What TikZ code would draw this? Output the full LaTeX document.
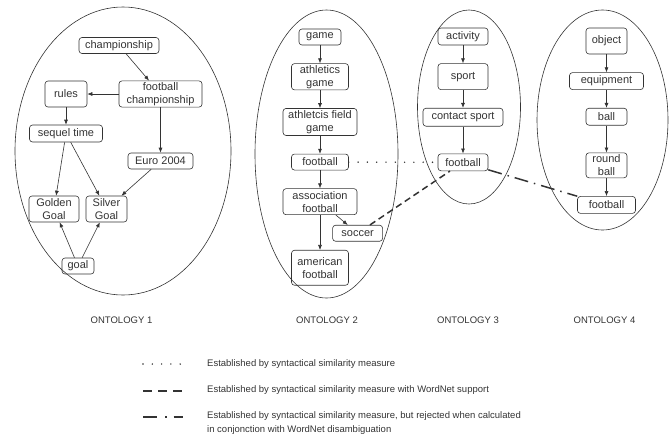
\documentclass[tikz,border=0pt]{standalone}
\usepackage{fontspec}
\setmainfont{Liberation Sans}
\usepackage{tikz}
\usetikzlibrary{positioning,arrows.meta}

\definecolor{LINE_COLOR}{HTML}{333333}
\tikzstyle{concept}=[rectangle, draw=LINE_COLOR, line width=0.6pt, rounded corners=3pt, minimum height=16pt, inner sep=1.5pt, align=center, text=LINE_COLOR, font=\fontsize{11}{13}\selectfont]
\tikzstyle{onto}=[draw=LINE_COLOR, line width=0.6pt]
\tikzstyle{isa}=[draw=LINE_COLOR, line width=0.6pt, -{Latex[length=5pt,width=4pt]}]
\tikzstyle{syntactic}=[draw=LINE_COLOR, line width=1.6pt, line cap=round, dash pattern=on 0pt off 9.3pt]
\tikzstyle{wordnet}=[draw=LINE_COLOR, line width=1.5pt, dash pattern=on 6.5pt off 4pt]
\tikzstyle{rejected}=[draw=LINE_COLOR, line width=1.5pt, dash pattern=on 14pt off 6pt on 1.5pt off 6pt]
\tikzstyle{ontolabel}=[text=LINE_COLOR, font=\fontsize{9.5}{11}\selectfont]
\tikzstyle{legendtext}=[text=LINE_COLOR, anchor=west, inner sep=0pt, align=left, font=\fontsize{9.5}{14}\selectfont]

\begin{document}
\begin{tikzpicture}[x=1pt, y=-1pt, node distance = 18pt and 0pt]
      \useasboundingbox (0,0) rectangle (669,437);

      %%%%%%%%%%%%%%%%%%%%%%%%%%%%%%%%%%%%%%%%%%%%%%%%%
      % ONTOLOGY 1
      %%%%%%%%%%%%%%%%%%%%%%%%%%%%%%%%%%%%%%%%%%%%%%%%%
      \draw[onto] (123,151) ellipse (108pt and 144pt);

      \node[concept, minimum width=80pt] (champ) at (119,45.5) {championship};
      \node[concept, minimum width=83pt, minimum height=26pt] (fchamp) at (160.5,94) {football\\championship};
      \node[concept, minimum width=42pt, minimum height=26pt] (rules) at (66,94) {rules};
      \node[concept, minimum width=73pt, minimum height=17pt] (sequel) at (66,133.5) {sequel time};
      \node[concept, minimum width=65pt] (euro) at (160.5,161) {Euro 2004};
      \node[concept, minimum width=50pt, minimum height=26pt] (golden) at (54,209) {Golden\\Goal};
      \node[concept, minimum width=41pt, minimum height=26pt] (silver) at (106.5,209) {Silver\\Goal};
      \node[concept, minimum width=32pt] (goal) at (78,266) {goal};

      \draw[isa] (champ) -- (fchamp);
      \draw[isa] (fchamp) -- (rules);
      \draw[isa] (rules) -- (sequel);
      \draw[isa] (fchamp) -- (euro);
      \draw[isa] (sequel) -- (golden);
      \draw[isa] (sequel) -- (silver);
      \draw[isa] (euro) -- (silver);
      \draw[isa] (goal) -- (golden);
      \draw[isa] (goal) -- (silver);

      \node[ontolabel] (lab1) at (121.5,320) {ONTOLOGY 1};

      %%%%%%%%%%%%%%%%%%%%%%%%%%%%%%%%%%%%%%%%%%%%%%%%%
      % ONTOLOGY 2
      %%%%%%%%%%%%%%%%%%%%%%%%%%%%%%%%%%%%%%%%%%%%%%%%%
      \draw[onto] (326.5,154) ellipse (71.5pt and 144pt);

      \node[concept, minimum width=42pt] (game) at (320,37) {game};
      \node[concept, minimum width=57pt, minimum height=26pt, below=of game] (athl) {athletics\\game};
      \node[concept, minimum width=74pt, minimum height=27pt, below=of athl] (afield) {athletcis field\\game};
      \node[concept, minimum width=57pt, below=of afield] (foot2) {football};
      \node[concept, minimum width=74pt, minimum height=26pt, below=of foot2] (assoc) {association\\football};
      \node[concept, minimum width=57pt, minimum height=35pt, below=35pt of assoc] (amer) {american\\football};
      \node[concept, minimum width=50pt, below right=10pt and -25pt of assoc] (soccer) {soccer};

      \draw[isa] (game) -- (athl);
      \draw[isa] (athl) -- (afield);
      \draw[isa] (afield) -- (foot2);
      \draw[isa] (foot2) -- (assoc);
      \draw[isa] (assoc) -- (amer);
      \draw[isa] (assoc) -- (soccer);

      \node[ontolabel] (lab2) at (327,320) {ONTOLOGY 2};

      %%%%%%%%%%%%%%%%%%%%%%%%%%%%%%%%%%%%%%%%%%%%%%%%%
      % ONTOLOGY 3
      %%%%%%%%%%%%%%%%%%%%%%%%%%%%%%%%%%%%%%%%%%%%%%%%%
      \draw[onto] (469,107) ellipse (51.5pt and 97pt);

      \node[concept, minimum width=50pt, minimum height=17pt] (activity) at (463,36.5) {activity};
      \node[concept, minimum width=50pt, minimum height=26pt, below=of activity] (sport) {sport};
      \node[concept, minimum width=80pt, minimum height=18pt, below=of sport] (contact) {contact sport};
      \node[concept, minimum width=50pt, minimum height=17pt, below=27pt of contact] (foot3) {football};

      \draw[isa] (activity) -- (sport);
      \draw[isa] (sport) -- (contact);
      \draw[isa] (contact) -- (foot3);

      \node[ontolabel] (lab3) at (468,320) {ONTOLOGY 3};

      %%%%%%%%%%%%%%%%%%%%%%%%%%%%%%%%%%%%%%%%%%%%%%%%%
      % ONTOLOGY 4
      %%%%%%%%%%%%%%%%%%%%%%%%%%%%%%%%%%%%%%%%%%%%%%%%%
      \draw[onto] (602.5,120) ellipse (65.5pt and 110pt);

      \node[concept, minimum width=41pt, minimum height=26pt] (object) at (606.5,41) {object};
      \node[concept, minimum width=74pt, minimum height=17pt, below=of object] (equip) {equipment};
      \node[concept, minimum width=41pt, minimum height=17pt, below=of equip] (ball) {ball};
      \node[concept, minimum width=41pt, minimum height=25pt, below=27pt of ball] (rball) {round\\ball};
      \node[concept, minimum width=58pt, minimum height=17pt, below=of rball] (foot4) {football};

      \draw[isa] (object) -- (equip);
      \draw[isa] (equip) -- (ball);
      \draw[isa] (ball) -- (rball);
      \draw[isa] (rball) -- (foot4);

      \node[ontolabel] (lab4) at (604.5,320) {ONTOLOGY 4};

      %%%%%%%%%%%%%%%%%%%%%%%%%%%%%%%%%%%%%%%%%%%%%%%%%
      % MAPPINGS
      %%%%%%%%%%%%%%%%%%%%%%%%%%%%%%%%%%%%%%%%%%%%%%%%%
      \draw[syntactic] (foot2) -- (foot3);
      \draw[wordnet] (soccer) -- (foot3);
      \draw[rejected] (foot3) -- (foot4);

      %%%%%%%%%%%%%%%%%%%%%%%%%%%%%%%%%%%%%%%%%%%%%%%%%
      % LEGEND
      %%%%%%%%%%%%%%%%%%%%%%%%%%%%%%%%%%%%%%%%%%%%%%%%%
      \coordinate (syn1) at (143,364);
      \coordinate (syn2) at (183,364);
      \draw[syntactic] (syn1) -- (syn2);
      \node[legendtext] (leg1) at (207,364) {Established by syntactical similarity measure};

      \coordinate (wn1) at (143,391);
      \coordinate (wn2) at (183,391);
      \draw[wordnet, dash pattern=on 9pt off 6pt] (wn1) -- (wn2);
      \node[legendtext] (leg2) at (207,390) {Established by syntactical similarity measure with WordNet support};

      \coordinate (rej1) at (143,417);
      \coordinate (rej2) at (183,417);
      \draw[rejected, dash pattern=on 14pt off 8pt on 1.5pt off 7pt] (rej1) -- (rej2);
      \node[legendtext] (leg3) at (207,423) {Established by syntactical similarity measure, but rejected when calculated\\in conjonction with WordNet disambiguation};
\end{tikzpicture}
\end{document}
